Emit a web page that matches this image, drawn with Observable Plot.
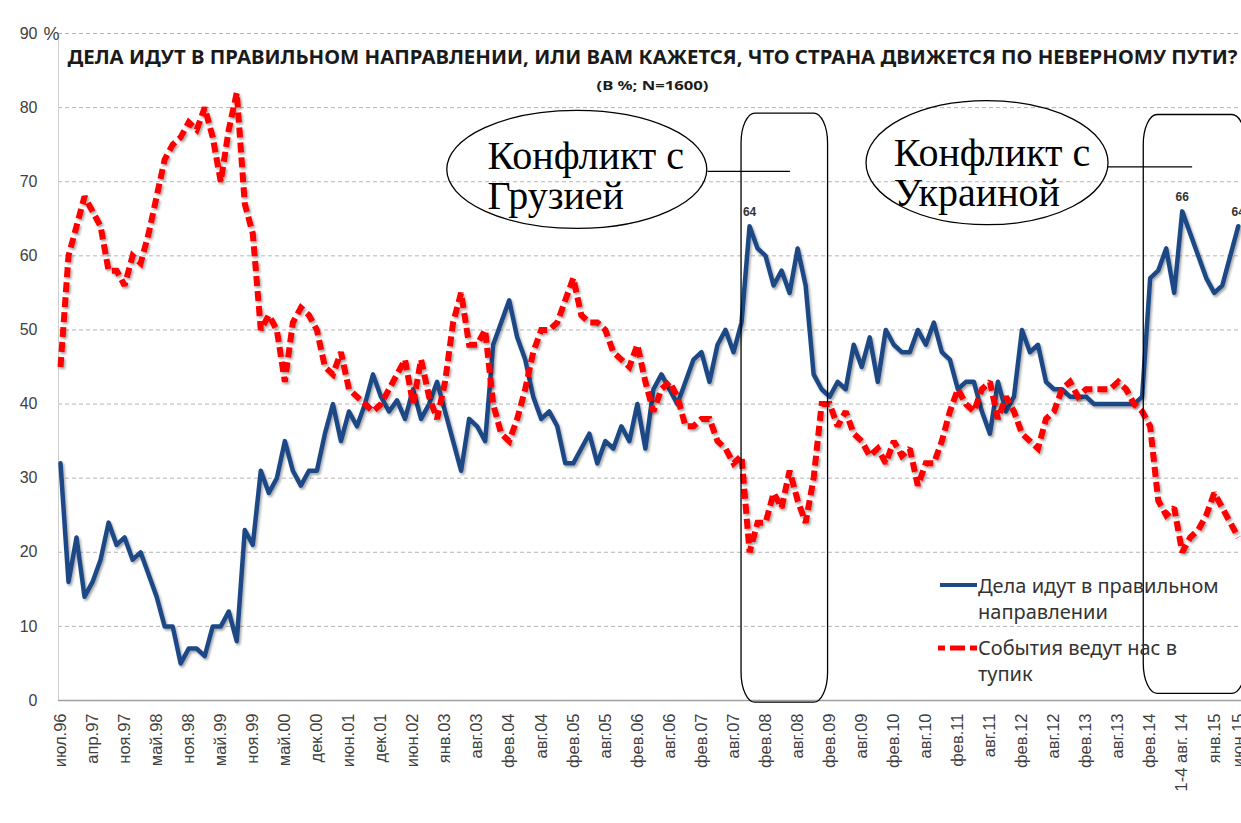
<!DOCTYPE html>
<html><head><meta charset="utf-8">
<script src="https://cdn.jsdelivr.net/npm/d3@7"></script>
<script src="https://cdn.jsdelivr.net/npm/@observablehq/plot@0.6"></script>
<style>
html,body{margin:0;padding:0;background:#fff;overflow:hidden;}
#wrap{position:relative;width:1241px;height:823px;overflow:hidden;}
</style></head><body><div id="wrap"></div>
<script>
// ---- data ----
const tickLabels = ["июл.96","апр.97","ноя.97","май.98","ноя.98","май.99","ноя.99","май.00","дек.00","июн.01","дек.01","июн.02","янв.03","авг.03","фев.04","авг.04","фев.05","авг.05","фев.06","авг.06","фев.07","авг.07","фев.08","авг.08","фев.09","авг.09","фев.10","авг.10","фев.11","авг.11","фев.12","авг.12","фев.13","авг.13","фев.14","1-4 авг. 14","янв.15","июн.15"];
const tickIndex = [0,4,8,12,16,20,24,28,32,36,40,44,48,52,56,60,64,68,72,76,80,84,88,92,96,100,104,108,112,116,120,124,128,132,136,140,144,147];

const rightWay = [
 32,16,22,14,16,19,24,21,22,19,
 20,17,14,10,10,5,7,7,6,10,
 10,12,8,23,21,31,28,30,35,31,
 29,31,31,36,40,35,39,37,40,44,
 41,39,40.5,38,42,38,40,43,39,35,
 31,38,37,35,48,51,54,49,46,41,
 38,39,37,32,32,34,36,32,35,34,
 37,35,40,34,42,44,42,40,43,46,
 47,43,48,50,47,51,64,61,60,56,
 58,55,61,56,44,42,41,43,42,48,
 45,49,43,50,48,47,47,50,48,51,
 47,46,42,43,43,39,36,43,39,41,
 50,47,48,43,42,42,41,41,41,40,
 40,40,40,40,40,41,57,58,61,55,
 66,63,60,57,55,56,60,64];

const deadEnd = [
 45,60,64,68,66,64,58,58,56,60,
 59,63,68,73,75,76,78,77,80,76,
 70,77,82,67,63,50,52,50,43,51,
 53,52,50,45,44,47,42,41,40,39,
 40,42,44,46,40,46,41,38,43,51,
 55,48,48,50,40,36,35,38,42,47,
 50,50,51,54,57,52,51,51,50,47,
 46,45,48,43,39,42,43,41,37,37,
 38,38,35,34,32,33,20,24,24,28,
 26,31,27,24,30,40,40,37,39,36,
 35,33,34,32,35,33,34,29,32,32,
 35,39,42,40,39,42,43,38,41,39,
 36,35,34,38,39,42,43,41,42,42,
 42,42,43,42,40,39,37,27,25,26,
 20,22,23,25,28,26,24,22];

const peakIndex = [86, 140, 147];
const yTicks = [0,10,20,30,40,50,60,70,80,90];

const titleText = "ДЕЛА ИДУТ В ПРАВИЛЬНОМ НАПРАВЛЕНИИ, ИЛИ ВАМ КАЖЕТСЯ, ЧТО СТРАНА ДВИЖЕТСЯ ПО НЕВЕРНОМУ ПУТИ?";
const subtitleText = "(В %; N=1600)";
const seriesNames = ["Дела идут в правильном\nнаправлении", "События ведут нас в\nтупик"];

// annotations (in index / value units)
const conflictBoxes = [
  {x1: 85.0, x2: 95.8, y1: -0.3, y2: 79.2},
  {x1: 135.2, x2: 148.0, y1: 0.9, y2: 79.0}
];
const bubbleLabels = [
  {x: 53.3, y: 75.6, text: "Конфликт с\nГрузией"},
  {x: 104.0, y: 76.0, text: "Конфликт с\nУкраиной"}
];
const bubbles = [
  {x: 64.5, y: 71.6, rx: 130, ry: 59},
  {x: 115.7, y: 72.5, rx: 121, ry: 62}
];
const connectors = [
  {x1: 80.8, x2: 91.1, y: 71.4},
  {x1: 130.8, x2: 141.3, y: 72.0}
];

// ---- build ----
const blueColor = "#1f4a85", redColor = "#ff0000";
const blueRows = rightWay.map((v, i) => ({i, v}));
const redRows = deadEnd.map((v, i) => ({i, v}));
const peaks = peakIndex.map(i => ({i, v: rightWay[i]}));
const xDomain = [-0.25, 147.4];

const plot = Plot.plot({
  width: 1241, height: 823,
  marginLeft: 58, marginRight: 0, marginTop: 33, marginBottom: 123,
  style: {fontFamily: "Liberation Sans", background: "white", overflow: "visible"},
  x: {domain: xDomain},
  y: {domain: [0, 90]},
  marks: [
    Plot.gridY(yTicks.slice(1), {stroke: "#b5b5b5", strokeOpacity: 1, strokeDasharray: "4 3"}),
    Plot.ruleX([xDomain[0]], {y1: 0, y2: 90, stroke: "#d0d0d0"}),
    Plot.ruleY([0], {stroke: "#a0a0a0", strokeWidth: 1.5}),
    Plot.axisY(yTicks, {tickSize: 0, tickPadding: 21, fontSize: 16, fill: "#404040", label: null}),
    Plot.axisX(tickIndex, {tickSize: 0, tickPadding: 13, tickRotate: -90, fontSize: 16.5, fill: "#404040", label: null,
      tickFormat: d => tickLabels[tickIndex.indexOf(d)]}),
    Plot.text(["%"], {text: d => d, frameAnchor: "top-left", dx: -15, dy: 1, textAnchor: "start", lineAnchor: "middle", fontSize: 18, fill: "#404040"}),
    Plot.lineY(blueRows, {x: "i", y: "v", stroke: blueColor, strokeWidth: 4.5}),
    Plot.lineY(redRows, {x: "i", y: "v", stroke: redColor, strokeWidth: 6, strokeDasharray: "10 5", strokeLinecap: "butt", strokeLinejoin: "miter", strokeMiterlimit: 2}),
    Plot.text(peaks, {x: "i", y: "v", text: d => String(d.v), dy: -14, fontWeight: "bold", fontSize: 12, fill: "#333"}),
    Plot.rect(conflictBoxes, {x1: "x1", x2: "x2", y1: "y1", y2: "y2", fill: "none", stroke: "black", strokeWidth: 1.3, rx: 14, ry: 30}),
    Plot.ruleY(connectors, {x1: "x1", x2: "x2", y: "y", stroke: "black", strokeWidth: 1.3}),
    Plot.text(bubbleLabels, {x: "x", y: "y", text: "text", textAnchor: "start", lineAnchor: "top", fontFamily: "Liberation Serif", fontSize: 40, lineHeight: 1.0, fill: "black"}),
    Plot.text([titleText], {text: d => d, frameAnchor: "top-left", dx: 9, dy: 24, textAnchor: "start", lineAnchor: "middle", fontFamily: "Noto Sans", fontWeight: "bold", fontSize: 19, fill: "#1a1a1a"}),
    Plot.text([subtitleText], {text: d => d, frameAnchor: "top-left", dx: 594, dy: 52, textAnchor: "middle", lineAnchor: "middle", fontFamily: "Noto Sans", fontWeight: "bold", fontSize: 12.5, fill: "#1a1a1a"})
  ]
});

document.getElementById("wrap").appendChild(plot);
const svg = d3.select(plot);
svg.selectAll("text").filter(function() { return this.textContent === titleText; })
  .attr("textLength", 1170).attr("lengthAdjust", "spacingAndGlyphs");
svg.selectAll("text").filter(function() { return this.textContent === subtitleText; })
  .attr("textLength", 112).attr("lengthAdjust", "spacingAndGlyphs");

// drop shadow for the series lines
const defs = svg.insert("defs", ":first-child");
const f = defs.append("filter").attr("id", "lineShadow").attr("x", "-5%").attr("y", "-5%").attr("width", "110%").attr("height", "110%");
f.append("feDropShadow").attr("dx", 1.5).attr("dy", 2).attr("stdDeviation", 1.3).attr("flood-color", "#000").attr("flood-opacity", 0.35);
svg.selectAll('g[aria-label="line"]').attr("filter", "url(#lineShadow)");
svg.selectAll('g[aria-label="rect"] rect').attr("rx", 14).attr("ry", 30);

const sx = plot.scale("x"), sy = plot.scale("y");
const ann = svg.append("g");
bubbles.forEach(b => {
  ann.append("ellipse").attr("cx", sx.apply(b.x)).attr("cy", sy.apply(b.y))
    .attr("rx", b.rx).attr("ry", b.ry).attr("fill", "none").attr("stroke", "black").attr("stroke-width", 1.3);
});

// legend
const lg = svg.append("g").attr("font-family", "Noto Sans").attr("font-size", 20).attr("fill", "#333").attr("text-anchor", "start");
lg.append("line").attr("x1", 940).attr("x2", 977).attr("y1", 585).attr("y2", 585).attr("stroke", blueColor).attr("stroke-width", 4);
lg.append("line").attr("x1", 938).attr("x2", 978).attr("y1", 648).attr("y2", 648).attr("stroke", redColor).attr("stroke-width", 5).attr("stroke-dasharray", "7 5 15 5 7 100");
[[seriesNames[0], 593], [seriesNames[1], 655]].forEach(([name, y0]) => {
  name.split("\n").forEach((line, k) => {
    lg.append("text").attr("x", 978).attr("y", y0 + k * 26).text(line);
  });
});
</script></body></html>
